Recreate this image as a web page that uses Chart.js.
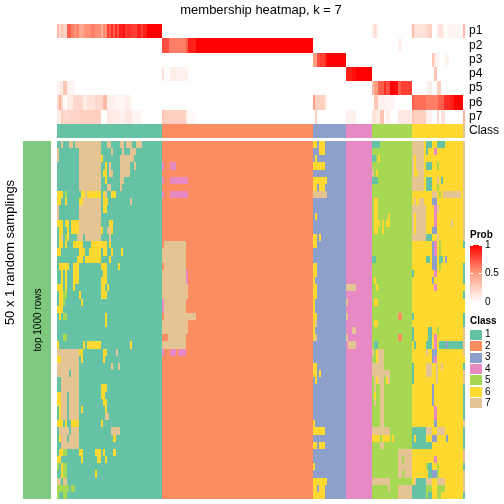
<!DOCTYPE html>
<html>
<head>
<meta charset="utf-8">
<script src="https://cdn.jsdelivr.net/npm/chart.js@4"></script>
<style>
html, body { margin: 0; background: #fff; }
canvas { position: absolute; }
</style>
</head>
<body>
<canvas id="leftChart" width="57" height="504" style="left:0;top:0"></canvas>
<canvas id="probChart" width="447" height="138" style="left:57px;top:0"></canvas>
<canvas id="bodyChart" width="408" height="358" style="left:57px;top:141px"></canvas>
<canvas id="probLegend" width="34" height="84" style="left:470px;top:226px"></canvas>
<canvas id="classLegend" width="34" height="97" style="left:470px;top:312px"></canvas>
<script>
const FONT = "'Liberation Sans', Arial, sans-serif";

const classNames = ['1', '2', '3', '4', '5', '6', '7'];
const classColors = ['#66C2A5', '#FC8D62', '#8DA0CB', '#E78AC3', '#A6D854', '#FFD92F', '#E5C494'];
// columns taken by each class, in heatmap column units
const classStarts = [0, 52.5, 128, 144.5, 157.5, 177.5, 203];
const classEnds = [52.5, 128, 144.5, 157.5, 177.5, 203, 204];
const totalColumns = 204;

const probLabels = ['p1', 'p2', 'p3', 'p4', 'p5', 'p6', 'p7'];
// [from column, to column, probability]
const p1Runs = [[0,1,.35],[1,2,.2],[2,3,.3],[3,4,.25],[4,5,.2],[5,7,.7],[7,8.5,.6],[8.5,10,.55],[10,11,.6],[11,13,.45],[13,14,.5],[14,17,.55],[17,19,.6],[19,22,.55],[22,23,.4],[23,25,.55],[25,26,.8],[26,27,.7],[27,28,.85],[28,29,.7],[29,30,.85],[30,31,.75],[31,33,.9],[33,34,.95],[34,35,.8],[35,37,.85],[37,40,.8],[40,42,.9],[42,43,.8],[43,45,.9],[45,52.5,1],[157.5,158.5,.1],[158.5,159.5,.18],[159.5,160.5,.1],[177.5,178.5,.35],[178.5,184.5,.15],[184.5,186,.2],[186,187.5,.25],[190,191,.1],[191,193,.15],[193,194,.05],[195,203,.05],[203,204,.35]];
const p2Runs = [[52.5,56,.75],[56,57,.6],[57,64.5,.6],[64.5,65.5,.7],[65.5,69.5,.9],[69.5,128,1],[170.5,172.5,.07]];
const p3Runs = [[128,130,.5],[130,131.5,.75],[131.5,134,.8],[134,135,.9],[135,144.5,1],[187.5,188.5,.3],[188.5,189.5,.15],[190,191,.08],[194,196,.07]];
const p4Runs = [[52.5,53.5,.15],[56.5,59.5,.1],[59.5,65.5,.07],[144.5,147.5,.9],[147.5,149.5,.95],[149.5,157.5,1],[188.5,190,.3]];
const p5Runs = [[0,1,.05],[1,3,.1],[3,5,.3],[5,7,.07],[7,9,.05],[157.5,158.5,.35],[158.5,160.5,.5],[160.5,163.5,.7],[163.5,164.5,.85],[164.5,166.5,.75],[166.5,168.5,1],[168.5,170.5,.95],[170.5,172,.7],[172,177.5,.8],[184.5,185.5,.05],[185.5,187.5,.1],[190,192,.25]];
const p6Runs = [[0,1,.2],[1,2,.4],[2,3,.2],[3,4,.05],[5,8,.1],[8,13,.2],[13,15,.1],[15,19,.15],[19,23,.2],[23,25,.35],[25,29,.08],[29,34,.05],[34,37,.08],[128,129,.5],[129,134,.25],[134,135,.1],[158.5,160.5,.3],[160.5,164,.07],[164,168.5,.05],[177.5,178.5,.7],[178.5,184.5,.65],[184.5,190.5,.6],[190.5,193.5,.7],[193.5,196.5,.85],[196.5,198.5,.9],[198.5,203,1]];
const p7Runs = [[0,2,.1],[2,3,.25],[3,6.5,.2],[6.5,11.5,.22],[11.5,22,.25],[25,27,.12],[27,31.5,.1],[31.5,34,.07],[34,37.5,.12],[37.5,42.5,.05],[52.5,53.5,.3],[53.5,64.5,.25],[64.5,65.5,.07],[65.5,69.5,.03],[129,130,.25],[144.5,149.5,.07],[157.5,159.5,.15],[159.5,161.5,.1],[161.5,163.5,.3],[164,166.5,.07],[170.5,177.5,.12],[177.5,178.5,.3],[178.5,184.5,.25],[184.5,187.5,.07],[190,191,.2],[192,194,.15],[203,204,.4]];

// 50 sampling rows; each lists where a sample was called another class: [class, from, to]
const sampleRows = [
  [[7,2,3],[7,6,8],[7,9,22],[7,25,27],[7,31.5,33.5],[7,34.5,37.5],[7,39.5,42.5],[6,128,130],[6,131,134],[1,157.5,161.5],[7,177.5,183.5],[1,184.5,187.5],[1,190,194]],
  [[7,0,1],[7,11,22],[7,27,28],[7,32.5,33.5],[7,36.5,39.5],[6,131,134],[7,177.5,183.5],[1,184.5,185.5],[4,188.5,190]],
  [[7,0,1],[7,11,22],[6,22,23],[7,31.5,38.5],[6,129,130],[1,157.5,159.5],[6,160.5,161.5],[7,177.5,183.5],[6,178.5,179.5]],
  [[7,11,22],[6,24,25],[7,26,27],[7,31.5,36.5],[7,38.5,39.5],[4,52.5,53.5],[4,56.5,59.5],[6,128,134],[7,177.5,183.5],[6,178.5,179.5],[1,184.5,187.5],[5,190,191]],
  [[7,11,22],[6,23,25],[7,26,28],[7,31.5,36.5],[7,157.5,158.5],[6,159.5,160.5],[7,177.5,183.5],[6,178.5,180.5]],
  [[7,11,22],[6,24,25],[7,31.5,33.5],[4,52.5,53.5],[4,56.5,65.5],[6,128,135],[1,157.5,160.5],[7,177.5,183.5],[1,184.5,187.5],[7,190,191],[1,192,193]],
  [[7,11,22],[7,25,27],[7,31.5,32.5],[6,128,130],[6,131,134],[7,177.5,183.5],[1,184.5,187.5],[5,190,191]],
  [[6,0,3],[5,4,5],[6,12,14],[7,14,15],[6,15,22],[6,23,24],[7,24,25],[6,27,29.5],[4,52.5,53.5],[4,56.5,65.5],[7,128,135],[7,187.5,190],[5,191,192],[7,193,202]],
  [[6,0,2],[6,4,5],[6,11,13],[7,13,22],[6,23,25.5],[7,36.5,37.5],[6,158.5,160.5],[7,178.5,179.5],[7,181,183.5],[3,187.5,190]],
  [[7,0,1],[7,11,22],[6,23,25],[6,158.5,160.5],[7,177.5,184.5],[4,188.5,190],[7,190,191]],
  [[7,0,1],[7,11,22],[6,129,130],[6,158.5,160.5],[6,165.5,166.5],[7,177.5,184.5],[6,178.5,179.5],[4,188.5,190]],
  [[6,0,3],[6,4,6],[6,7,11],[7,11,22],[6,26,28],[6,158.5,161.5],[6,162.5,163.5],[6,164.5,166.5],[7,177.5,184.5],[6,178.5,179.5],[4,188.5,190],[7,197,198]],
  [[6,1,3],[6,5,6],[6,7,11],[7,11,22],[6,22,23],[7,25,27],[6,27,28],[6,158.5,160.5],[6,162.5,163.5],[7,177.5,184.5],[6,178.5,179.5],[3,187.5,190]],
  [[6,1,2],[7,2,3],[5,4,5],[6,5,6],[7,10,13],[7,14,22],[7,26,27],[6,128,130],[6,131,132],[7,177.5,184.5],[1,184.5,187.5],[7,190,191]],
  [[6,1,3],[6,4,5],[6,8,13],[6,17,25],[6,26,27],[7,53.5,64.5],[6,128,130],[3,187.5,188.5],[4,188.5,190],[5,191,192],[1,203,204]],
  [[6,0,2],[6,11,14],[6,16,22],[6,23,25],[6,27,28],[6,32,33],[7,52.5,64.5],[3,187.5,188.5],[4,188.5,190],[5,191,192],[6,203,204]],
  [[6,10,13],[6,14,22],[6,26,27],[7,52.5,64.5],[1,157.5,159.5],[1,184.5,186.5],[3,187.5,190],[1,191,193],[3,194,195],[6,203,204]],
  [[6,1,6],[6,8,11],[6,22,25],[6,30.5,31.5],[7,53.5,64.5],[6,128,130],[3,187.5,190],[5,191,192],[1,203,204]],
  [[6,2,3],[6,4,5],[6,8,11],[6,23,25],[7,52.5,64.5],[4,64.5,65.5],[6,128,130],[1,177.5,178.5],[4,188.5,190],[1,203,204]],
  [[6,2,3],[6,4,5],[6,8,11],[6,22,25],[7,52.5,64.5],[4,64.5,65.5],[6,128,129],[6,158.5,159.5],[3,187.5,188.5],[1,203,204]],
  [[6,0,3],[6,4,5],[6,8,9],[6,22,24],[6,25,26],[7,52.5,65.5],[6,128,130],[7,144.5,149.5],[6,159.5,160.5],[4,188.5,190],[6,203,204]],
  [[6,1,3],[5,3,5],[6,11,12],[6,22,25],[7,52.5,65.5],[6,128,130],[1,203,204]],
  [[6,1,3],[5,3,4],[6,12,13],[4,52.5,53.5],[7,53.5,64.5],[6,128,129],[7,144.5,145.5],[6,158.5,160.5],[6,203,204]],
  [[6,0,3],[4,52.5,53.5],[7,53.5,64.5],[6,128,129],[6,203,204]],
  [[6,1,2],[5,3,5],[6,24,25],[7,53.5,69.5],[6,128,130],[7,144.5,145.5],[2,170.5,172.5],[1,177.5,178.5],[1,203,204]],
  [[6,24,25],[7,52.5,65.5],[6,128,129],[7,129,130],[6,158.5,160.5],[1,203,204]],
  [[7,52.5,65.5],[6,128,129],[7,147.5,149.5],[1,177.5,178.5],[1,185.5,187.5],[5,190,191]],
  [[5,3,5],[7,55.5,64.5],[6,128,129],[7,129,130],[7,144.5,145.5],[2,170.5,172.5],[1,177.5,178.5],[1,185.5,187.5],[4,188.5,190]],
  [[6,0,1],[6,13,14],[6,15,22],[6,36.5,37.5],[7,52.5,64.5],[7,145.5,149.5],[1,158.5,160.5],[1,178.5,179.5],[1,184.5,187.5],[4,188.5,190],[1,191,194.5],[3,194.5,195.5],[1,195.5,203]],
  [[7,0,11],[6,11,13],[6,23,25],[7,29.5,30.5],[4,52.5,53.5],[4,56.5,59.5],[4,60.5,64.5],[7,157.5,158.5],[6,159.5,160.5],[7,160.5,163.5],[7,184.5,185.5],[3,187.5,190],[7,203,204]],
  [[6,0,2],[7,2,11],[6,12,13],[6,23,24],[6,159.5,160.5],[7,160.5,163.5],[3,187.5,188.5],[4,188.5,190],[6,203,204]],
  [[7,0,11],[7,27,28],[7,30.5,31.5],[6,128,130],[7,157.5,163.5],[1,177.5,178.5],[7,184.5,187.5],[7,189.5,190.5],[7,192,193],[1,203,204]],
  [[7,0,6],[7,7,11],[6,128,130],[6,131,132],[7,157.5,166.5],[1,177.5,178.5],[7,184.5,187.5],[7,189.5,190.5],[7,203,204]],
  [[7,2,11],[6,129,130],[7,158.5,159.5],[6,159.5,160.5],[7,160.5,163.5],[6,164.5,165.5],[7,165.5,166.5],[1,177.5,178.5],[7,189.5,190.5],[7,203,204]],
  [[7,2,11],[6,22,25],[7,158.5,159.5],[7,161.5,163.5],[3,187.5,188.5],[1,203,204]],
  [[6,0,2],[7,2,5],[7,6,11],[6,22,24],[6,158.5,159.5],[7,161.5,163.5],[3,187.5,188.5],[1,203,204]],
  [[6,0,2],[7,2,5],[7,6,11],[6,23,25],[7,158.5,159.5],[7,161.5,163.5],[3,187.5,188.5],[1,203,204]],
  [[6,1,2],[7,2,5],[7,6,11],[6,12,13],[6,24,25],[7,161.5,163.5],[4,188.5,190],[1,203,204]],
  [[6,1,2],[7,2,5],[7,6,11],[7,24,26],[7,161.5,163.5],[4,188.5,190],[1,203,204]],
  [[6,0,3],[6,4,5],[6,7,11],[6,22,23],[6,128,129],[7,161.5,163.5],[3,188.5,190],[7,203,204]],
  [[7,1,6],[7,7,11],[7,27,31.5],[6,128,134],[7,157.5,166.5],[1,177.5,184.5],[7,184.5,187.5],[7,190,194],[1,203,204]],
  [[6,1,2],[7,2,5],[7,6,11],[6,28,29.5],[6,157.5,161.5],[6,162.5,166.5],[6,167.5,168.5],[1,177.5,178.5],[1,179.5,184.5],[3,187.5,190],[3,194.5,195.5],[1,203,204]],
  [[7,2,11],[6,128,130],[6,131,134],[7,161.5,163.5],[1,177.5,187.5],[1,203,204]],
  [[6,1,3],[5,3,5],[6,11,13],[6,19,22],[6,23,24],[6,28,29.5],[7,170.5,177.5]],
  [[6,0,2],[6,12,13],[6,20,22],[6,24,25],[7,170.5,172.5],[7,173.5,177.5],[4,188.5,190]],
  [[5,0,1],[6,2,3],[5,3,5],[6,128,129],[7,170.5,177.5],[5,184.5,185.5],[1,185.5,187.5],[5,190,191],[1,203,204]],
  [[6,2,3],[5,3,5],[6,19,20],[7,170.5,172.5],[7,173.5,177.5],[1,185.5,187.5],[3,187.5,190],[5,190,191]],
  [[7,0,2],[7,3,5],[6,128,135],[7,157.5,166.5],[7,178.5,179.5],[1,179.5,184.5],[7,184.5,187.5],[7,190,194],[7,203,204]],
  [[5,0,6],[5,7,9],[6,128,130],[6,131,134],[7,165.5,166.5],[7,170.5,177.5],[1,177.5,184.5],[5,184.5,187.5],[5,190,194]],
  [[5,0,1],[5,3,5],[6,128,134],[7,170.5,177.5],[1,177.5,184.5],[5,184.5,185.5],[1,185.5,187.5],[5,190,192],[1,203,204]]
];

const probTicks = [0, 0.5, 1];

// white > salmon > red, the ramp of the Prob legend
function probColor(p) {
  const t = p < 0.5 ? p * 2 : (p - 0.5) * 2;
  const from = p < 0.5 ? [255, 255, 255] : [255, 158, 129];
  const to = p < 0.5 ? [255, 158, 129] : [255, 0, 0];
  const c = from.map((v, i) => Math.round(v + (to[i] - v) * t));
  return `rgb(${c[0]},${c[1]},${c[2]})`;
}

function hiddenLinear(max) {
  return { type: 'linear', min: 0, max: max, display: false };
}

// right hand label column of fixed width, without the padding Chart.js keeps for the labels
function fixedWidth(width) {
  return s => {
    s.width = width;
    s.paddingTop = 0;
    s.paddingBottom = 0;
  };
}

// the heatmap is a raster: round the bars' rows to whole pixels so no seams show between them
Chart.register({
  id: 'snapRows',
  beforeDatasetsDraw(chart) {
    if (chart.options.indexAxis !== 'y') return;
    chart.getSortedVisibleDatasetMetas().forEach(meta => {
      meta.data.forEach(bar => {
        const top = Math.round(bar.y - bar.height / 2);
        const bottom = Math.round(bar.y + bar.height / 2);
        bar.y = (top + bottom) / 2;
        bar.height = bottom - top;
      });
    });
  }
});

const baseOptions = {
  responsive: false,
  animation: false,
  devicePixelRatio: 1,
  indexAxis: 'y',
  events: [],
  layout: { autoPadding: false },
  plugins: { legend: { display: false }, tooltip: { enabled: false } }
};

const barStyle = { barPercentage: 1, categoryPercentage: 1, grouped: false, inflateAmount: 0, borderWidth: 0 };

// Top annotation: probability rows and the Class strip
const probRows = [p1Runs, p2Runs, p3Runs, p4Runs, p5Runs, p6Runs, p7Runs];
const probBars = [];
probRows.forEach((runs, r) => {
  runs.forEach(run => probBars.push({ x: [run[0], run[1]], y: probLabels[r], color: probColor(run[2]) }));
});
classNames.forEach((name, i) => {
  probBars.push({ x: [classStarts[i], classEnds[i]], y: 'Class', color: classColors[i] });
});

new Chart(document.getElementById('probChart'), {
  type: 'bar',
  data: {
    labels: probLabels.concat(['Class']),
    datasets: [{ data: probBars, backgroundColor: ctx => ctx.raw.color, ...barStyle }]
  },
  options: {
    ...baseOptions,
    plugins: {
      ...baseOptions.plugins,
      title: {
        display: true,
        text: 'membership heatmap, k = 7',
        fullSize: false,
        color: '#000',
        font: { family: FONT, size: 13, weight: 'normal', lineHeight: 1.2 },
        padding: { top: 3, bottom: 5.4 }
      }
    },
    scales: {
      x: hiddenLinear(totalColumns),
      y: {
        type: 'category',
        position: 'right',
        afterFit: fixedWidth(39),
        grid: { display: false, drawTicks: false },
        border: { display: false },
        ticks: { color: '#000', padding: 4, autoSkip: false, font: { family: FONT, size: 12 } }
      }
    }
  }
});

// Body of the heatmap: class blocks, then the rows that differ from them
const sampleLabels = sampleRows.map((row, i) => String(i));
const baseBars = classNames.map((name, i) => ({ x: [classStarts[i], classEnds[i]], y: 'all', color: classColors[i] }));
const sampleBars = [];
sampleRows.forEach((row, r) => {
  row.forEach(run => sampleBars.push({ x: [run[1], run[2]], y: sampleLabels[r], color: classColors[run[0] - 1] }));
});

new Chart(document.getElementById('bodyChart'), {
  type: 'bar',
  data: {
    datasets: [
      { data: baseBars, order: 2, yAxisID: 'yBase', backgroundColor: ctx => ctx.raw.color, ...barStyle },
      { data: sampleBars, order: 1, yAxisID: 'y', backgroundColor: ctx => ctx.raw.color, ...barStyle }
    ]
  },
  options: {
    ...baseOptions,
    scales: {
      x: hiddenLinear(totalColumns),
      yBase: { type: 'category', labels: ['all'], display: false },
      y: { type: 'category', labels: sampleLabels, display: false }
    }
  }
});

// Green strip on the left with its two rotated labels
const rotatedLabels = {
  id: 'rotatedLabels',
  afterDatasetsDraw(chart) {
    const ctx = chart.ctx;
    ctx.save();
    ctx.fillStyle = '#000';
    ctx.textAlign = 'center';
    ctx.textBaseline = 'middle';
    ctx.translate(10, 252.5);
    ctx.rotate(-Math.PI / 2);
    ctx.font = '13px ' + FONT;
    ctx.fillText('50 x 1 random samplings', 0, 0);
    ctx.restore();
    ctx.save();
    ctx.fillStyle = '#000';
    ctx.textAlign = 'center';
    ctx.textBaseline = 'middle';
    ctx.translate(38, 320);
    ctx.rotate(-Math.PI / 2);
    ctx.font = '10px ' + FONT;
    ctx.fillText('top 1000 rows', 0, 0);
    ctx.restore();
  }
};

new Chart(document.getElementById('leftChart'), {
  type: 'bar',
  data: {
    labels: ['rows'],
    datasets: [{ data: [1], backgroundColor: '#7FC97F', ...barStyle }]
  },
  options: {
    ...baseOptions,
    layout: { autoPadding: false, padding: { left: 23, right: 6, top: 141, bottom: 5 } },
    scales: {
      x: hiddenLinear(1),
      y: { type: 'category', display: false }
    }
  },
  plugins: [rotatedLabels]
});

// Prob legend
const ramp = ctx => {
  const area = ctx.chart.chartArea;
  if (!area) return probColor(1);
  const g = ctx.chart.ctx.createLinearGradient(0, area.bottom, 0, area.top);
  for (let p = 0; p <= 1; p += 0.1) g.addColorStop(Math.min(p, 1), probColor(p));
  return g;
};

new Chart(document.getElementById('probLegend'), {
  type: 'bar',
  data: {
    labels: ['Prob'],
    datasets: [{ data: [[0, 1]], backgroundColor: ramp, ...barStyle }]
  },
  options: {
    ...baseOptions,
    indexAxis: 'x',
    layout: { autoPadding: false, padding: { bottom: 8 } },
    plugins: {
      ...baseOptions.plugins,
      title: {
        display: true,
        text: 'Prob',
        align: 'start',
        color: '#000',
        font: { family: FONT, size: 10, weight: 'bold', lineHeight: 1.2 },
        padding: { top: 3, bottom: 4 }
      }
    },
    scales: {
      x: { type: 'category', display: false },
      y: {
        type: 'linear',
        position: 'right',
        min: 0,
        max: 1,
        afterBuildTicks: s => { s.ticks = probTicks.map(v => ({ value: v })); },
        afterFit: fixedWidth(22),
        grid: { color: '#fff', z: 1, drawTicks: false },
        border: { display: false, dash: [3, 6] },
        ticks: { color: '#000', padding: 3, font: { family: FONT, size: 10 }, callback: v => String(v) }
      }
    }
  }
});

// Class legend
new Chart(document.getElementById('classLegend'), {
  type: 'bar',
  data: {
    labels: classNames,
    datasets: [{ data: classNames.map(() => [0, 1]), backgroundColor: classColors, ...barStyle, barPercentage: 0.88 }]
  },
  options: {
    ...baseOptions,
    plugins: {
      ...baseOptions.plugins,
      title: {
        display: true,
        text: 'Class',
        align: 'start',
        color: '#000',
        font: { family: FONT, size: 10, weight: 'bold', lineHeight: 1.2 },
        padding: { top: 3, bottom: 2 }
      }
    },
    scales: {
      x: hiddenLinear(1),
      y: {
        type: 'category',
        position: 'right',
        afterFit: fixedWidth(22),
        grid: { display: false, drawTicks: false },
        border: { display: false },
        ticks: { color: '#000', padding: 3, autoSkip: false, font: { family: FONT, size: 10 } }
      }
    }
  }
});
</script>
</body>
</html>
